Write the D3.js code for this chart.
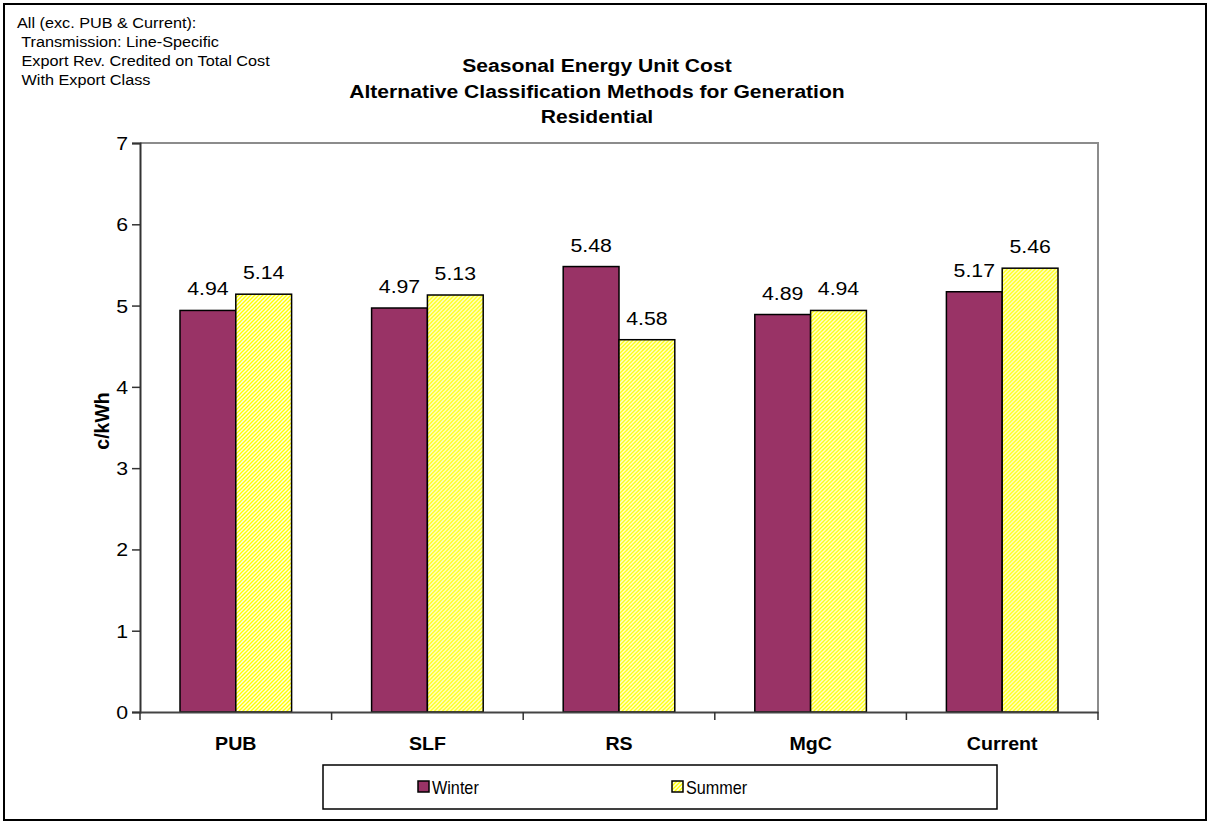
<!DOCTYPE html>
<html><head><meta charset="utf-8">
<script src="https://cdn.jsdelivr.net/npm/d3@7"></script>
<style>body{margin:0;background:#fff}svg{display:block;font-family:Arial,"Liberation Sans",sans-serif}</style>
</head><body><svg id="c" width="1209" height="824"></svg>
<script>
const categories = ["PUB","SLF","RS","MgC","Current"];
const seriesNames = ["Winter","Summer"];
const winter = [4.94,4.97,5.48,4.89,5.17];
const summer = [5.14,5.13,4.58,4.94,5.46];
const yTicks = [0,1,2,3,4,5,6,7];
const titleLines = ["Seasonal Energy Unit Cost","Alternative Classification Methods for Generation","Residential"];
const noteLines = ["All (exc. PUB & Current):"," Transmission: Line-Specific"," Export Rev. Credited on Total Cost"," With Export Class"];

const svg = d3.select("#c");
const defs = svg.append("defs");
const pat = defs.append("pattern").attr("id","hatch").attr("patternUnits","userSpaceOnUse").attr("width",4).attr("height",4);
pat.append("rect").attr("width",4).attr("height",4).attr("fill","#ffff00");
pat.append("path").attr("d","M0,4 L4,0 M-1,1 L1,-1 M3,5 L5,3").attr("stroke","#ffffe0").attr("stroke-width",1.5);

svg.append("rect").attr("x",4).attr("y",4).attr("width",1202).attr("height",816).attr("fill","#fff").attr("stroke","#000").attr("stroke-width",2);

const L=140,R=1098,T=143,B=712;
const x0 = d3.scaleBand().domain(categories).range([L,R]).padding(0);
const x1 = d3.scaleBand().domain(seriesNames).range([40, x0.bandwidth()-40]).padding(0);
const y = d3.scaleLinear().domain([0,7]).range([B,T]);

function stext(sel, x, yy, txt, size, sx, anchor, weight){
  return sel.append("text").attr("transform",`translate(${x},${yy}) scale(${sx},1)`)
    .attr("text-anchor",anchor||"start").attr("font-size",size).attr("font-weight",weight||"normal")
    .attr("xml:space","preserve").style("white-space","pre").text(txt);
}

svg.append("path").attr("d",`M${L},${T}H${R}V${B}`).attr("fill","none").attr("stroke","#8c8c8c").attr("stroke-width",2);

const data = categories.map((c,i)=>({c, vals:[{s:"Winter",v:winter[i]},{s:"Summer",v:summer[i]}]}));
const grp = svg.append("g").selectAll("g.grp").data(data).join("g").attr("transform",d=>`translate(${x0(d.c)},0)`);
grp.selectAll("rect").data(d=>d.vals).join("rect")
  .attr("x",d=>x1(d.s)).attr("width",x1.bandwidth())
  .attr("y",d=>y(d.v)).attr("height",d=>B-y(d.v))
  .attr("fill",d=>d.s==="Winter"?"#993366":"url(#hatch)")
  .attr("stroke","#000").attr("stroke-width",1.5);
grp.each(function(d){
  const gg=d3.select(this);
  d.vals.forEach(v=>stext(gg, x1(v.s)+x1.bandwidth()/2, y(v.v)-15, v.v.toFixed(2), 19, 1.12, "middle"));
});

const ya = svg.append("g").attr("transform",`translate(${L},0)`)
  .call(d3.axisLeft(y).tickValues(yTicks).tickFormat(()=>"").tickSize(8));
ya.select(".domain").attr("stroke","#333").attr("stroke-width",2);
ya.selectAll(".tick line").attr("stroke","#333").attr("stroke-width",1.5);
yTicks.forEach(t=>stext(svg, 128, y(t)+7, String(t), 19, 1.12, "end"));

const xa = svg.append("g").attr("transform",`translate(0,${B})`)
  .call(d3.axisBottom(x0).tickSize(0).tickFormat(()=>""));
xa.select(".domain").attr("stroke","#444").attr("stroke-width",2);
categories.forEach(c=>stext(svg, x0(c)+x0.bandwidth()/2, 750, c, 18.5, 1.06, "middle", "bold"));
const bounds = categories.map(c=>x0(c)).concat([R]);
svg.selectAll("line.xt").data(bounds).join("line").attr("class","xt")
  .attr("x1",d=>d).attr("x2",d=>d).attr("y1",B).attr("y2",B+8).attr("stroke","#333").attr("stroke-width",1.5);

svg.append("text").attr("transform",`translate(109,421) rotate(-90)`).attr("text-anchor","middle")
  .attr("font-size",19.5).attr("font-weight","bold").text("c/kWh");

titleLines.forEach((t,i)=>stext(svg, 597, 72+i*25.5, t, 19, 1.11, "middle", "bold"));

noteLines.forEach((t,i)=>stext(svg, 17, 27.5+i*19.3, t, 14.5, 1.12, "start"));

svg.append("rect").attr("x",323).attr("y",765).attr("width",674).attr("height",44).attr("fill","#fff").attr("stroke","#000").attr("stroke-width",1.5);
const lg = [{s:"Winter",x:418},{s:"Summer",x:672}];
svg.selectAll("rect.lg").data(lg).join("rect").attr("class","lg")
  .attr("x",d=>d.x).attr("y",781).attr("width",11).attr("height",11)
  .attr("fill",d=>d.s==="Winter"?"#993366":"url(#hatch)").attr("stroke","#000").attr("stroke-width",1.5);
lg.forEach(d=>stext(svg, d.x+14, 794, d.s, 18, 0.9, "start"));
</script></body></html>
